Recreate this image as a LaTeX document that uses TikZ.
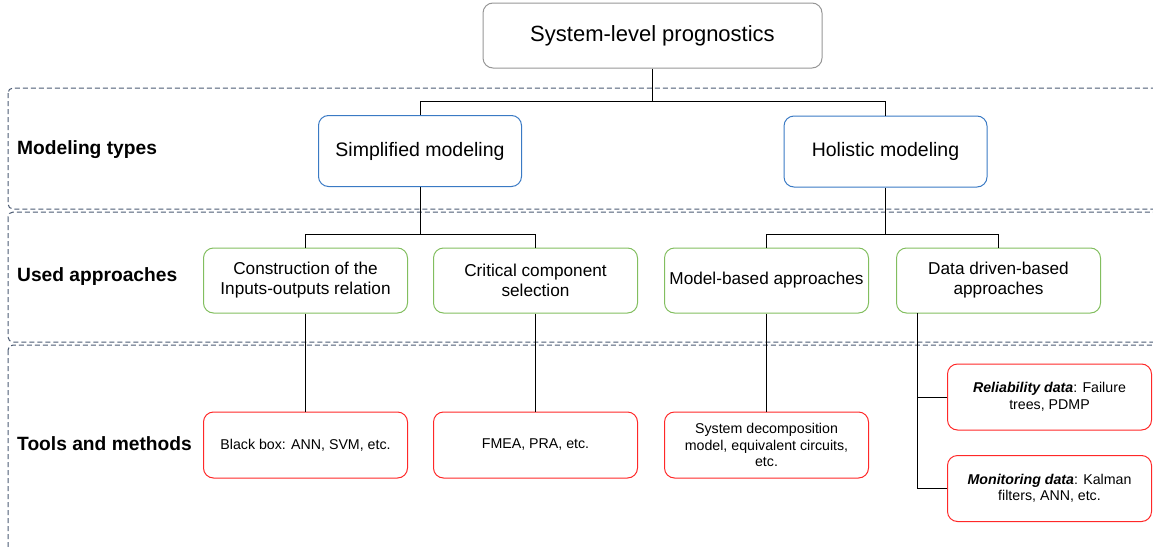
\documentclass[tikz,border=0pt]{standalone}
\usepackage{fontspec}
\setmainfont{Liberation Sans}
\definecolor{cblue}{RGB}{58,122,196}
\definecolor{cgreen}{RGB}{130,190,95}
\definecolor{cred}{RGB}{255,40,40}
\definecolor{cgray}{RGB}{150,150,150}
\definecolor{cdash}{RGB}{75,90,115}
\tikzset{
  box/.style={draw, rounded corners=10pt, line width=1pt, align=center, inner sep=0pt},
  topbox/.style={box, draw=cgray, minimum width=339pt, minimum height=65pt, font=\fontsize{22}{26}\selectfont},
  typebox/.style={box, draw=cblue, minimum width=203pt, minimum height=71pt, font=\fontsize{19.5}{23}\selectfont},
  appbox/.style={box, draw=cgreen, minimum width=204pt, minimum height=65pt, font=\fontsize{17.2}{20}\selectfont},
  toolbox/.style={box, draw=cred, minimum width=204pt, minimum height=66pt, font=\fontsize{14.2}{16.5}\selectfont},
  region/.style={draw=cdash, dash pattern=on 5pt off 3pt, rounded corners=5pt, line width=1pt},
  rowlabel/.style={anchor=west, font=\fontsize{19.2}{22}\selectfont\bfseries, inner sep=0pt},
  conn/.style={draw=black, line width=1pt}
}
\begin{document}
\begin{tikzpicture}[x=1pt,y=-1pt]
\useasboundingbox (0,0) rectangle (1153,546);
% regions
\draw[region] (8,88) rectangle (1175,209);
\draw[region] (8,212) rectangle (1175,342);
\draw[region] (8,345) rectangle (1175,560);
% row labels
\node[rowlabel] (l1) at (17,150) {Modeling types};
\node[rowlabel] (l2) at (17,277) {Used approaches};
\node[rowlabel] (l3) at (17,444) {Tools and methods};
% nodes
\node[topbox] (top) at (652.5,35.5) {System-level prognostics};
\node[typebox] (simp) at (420,151) {Simplified modeling};
\node[typebox] (hol) at (885.5,151.5) {Holistic modeling};
\node[appbox] (cons) at (305.5,280.5) {Construction of the\\Inputs-outputs relation};
\node[appbox] (crit) at (535.5,280.5) {Critical component\\selection};
\node[appbox] (model) at (766.5,280.5) {Model-based approaches};
\node[appbox] (data) at (998.5,280.5) {Data driven-based\\approaches};
\node[toolbox] (bb) at (305.5,445) {Black box: ANN, SVM, etc.};
\node[toolbox] (fmea) at (535.5,445) {FMEA, PRA, etc.};
\node[toolbox] (sdm) at (766.5,445) {System decomposition\\model, equivalent circuits,\\etc.};
\node[toolbox] (rel) at (1049.5,397) {\textbf{\textit{Reliability data}}: Failure\\trees, PDMP};
\node[toolbox] (mon) at (1049.5,488.5) {\textbf{\textit{Monitoring data}}: Kalman\\filters, ANN, etc.};
% junction coordinates
\coordinate (j1) at (652.5,101);
\coordinate (j2) at (420,234);
\coordinate (j3) at (885.5,234);
\coordinate (dj) at (917,313);
% connectors
\draw[conn] (top.south) -- (j1);
\draw[conn] (j1) -| (simp.north);
\draw[conn] (j1) -| (hol.north);
\draw[conn] (simp.south) -- (j2);
\draw[conn] (j2) -| (cons.north);
\draw[conn] (j2) -| (crit.north);
\draw[conn] (hol.south) -- (j3);
\draw[conn] (j3) -| (model.north);
\draw[conn] (j3) -| (data.north);
\draw[conn] (cons.south) -- (bb.north);
\draw[conn] (crit.south) -- (fmea.north);
\draw[conn] (model.south) -- (sdm.north);
\draw[conn] (dj) |- (rel.west);
\draw[conn] (dj) |- (mon.west);
\end{tikzpicture}
\end{document}
